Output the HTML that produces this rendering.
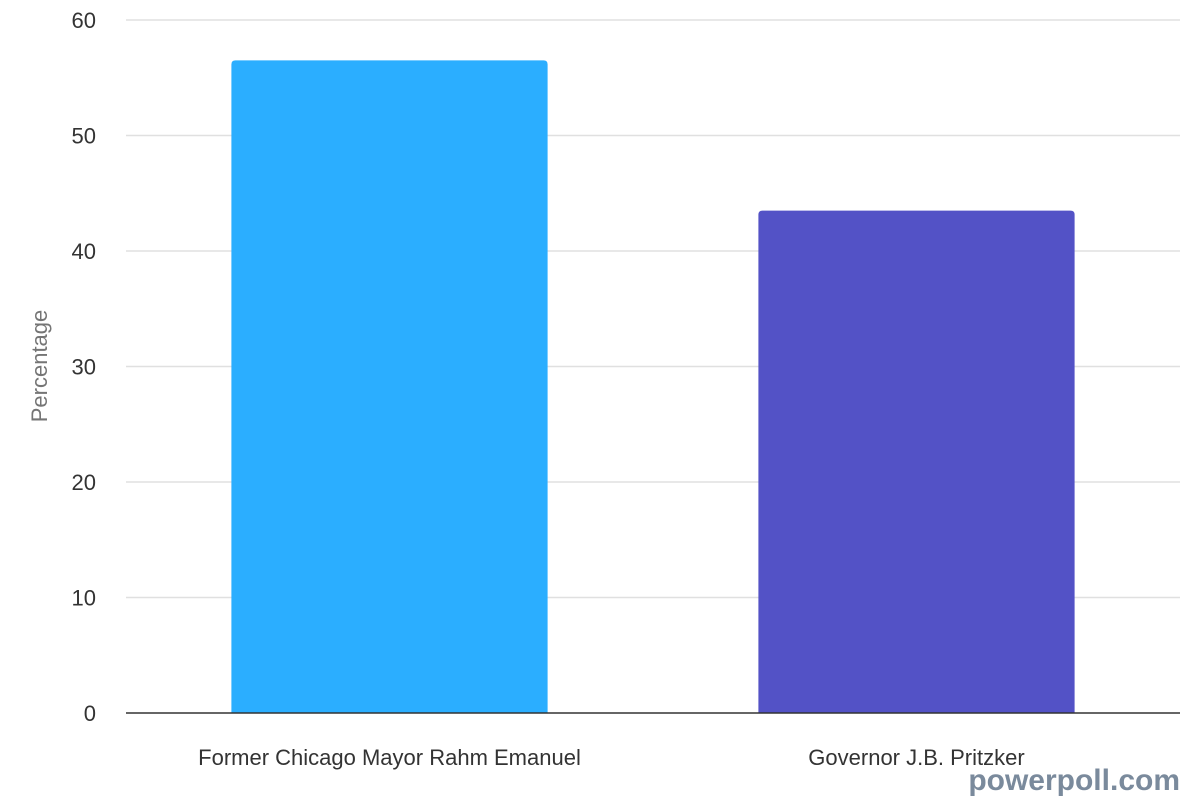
<!DOCTYPE html>
<html><head><meta charset="utf-8"><style>
body{margin:0;background:#fff;}
svg{display:block;font-family:"Liberation Sans",Arial,sans-serif;}
</style></head><body>
<svg id="chart" width="1200" height="800">
<g id="grid"></g>
<g id="yticks"></g>
<g id="bars"></g>
<g id="xlabels"></g>
<line x1="126" x2="1180" y1="713" y2="713" stroke="#333" stroke-width="1.5"/>
<text x="47" y="366" transform="rotate(-90 47 366)" text-anchor="middle" font-size="22" fill="#757575">Percentage</text>
<text x="1180" y="790" text-anchor="end" font-size="30" font-weight="bold" fill="#7a8a9c">powerpoll.com</text>
</svg>
<script>
const categories=["Former Chicago Mayor Rahm Emanuel","Governor J.B. Pritzker"];
const values=[56.5,43.5];
const colors=["#2baeff","#5352c6"];
const yTicks=[0,10,20,30,40,50,60];
const NS="http://www.w3.org/2000/svg";
const x0=126,x1=1180,yBase=713,yTop=20,yMax=60;
const y=v=>yBase-(v/yMax)*(yBase-yTop);
const band=(x1-x0)/categories.length;
function mk(t,a){const e=document.createElementNS(NS,t);for(const k in a)e.setAttribute(k,a[k]);return e;}
const grid=document.getElementById('grid'),yt=document.getElementById('yticks'),bars=document.getElementById('bars'),xl=document.getElementById('xlabels');
yTicks.forEach(t=>{
 if(t>0){const l=mk('line',{x1:x0,x2:x1,y1:y(t),y2:y(t),stroke:'#e0e0e0','stroke-width':1.5});
 
 
 grid.appendChild(l);}
 const tx=mk('text',{x:96,y:y(t)+8,'text-anchor':'end','font-size':22,fill:'#333'});
 tx.textContent=t;
 
 
 yt.appendChild(tx);
});
categories.forEach((c,i)=>{
 const bw=band*0.6,bx=x0+band*i+(band-bw)/2,top=y(values[i]);
 const p=mk('path',{d:`M${bx},${yBase}V${top+4}Q${bx},${top} ${bx+4},${top}H${bx+bw-4}Q${bx+bw},${top} ${bx+bw},${top+4}V${yBase}Z`,fill:colors[i]});
 
 
 bars.appendChild(p);
 const t=mk('text',{x:x0+band*i+band/2,y:765,'text-anchor':'middle','font-size':22,fill:'#333'});
 t.textContent=c;
 
 
 xl.appendChild(t);
});
</script>
</body></html>
